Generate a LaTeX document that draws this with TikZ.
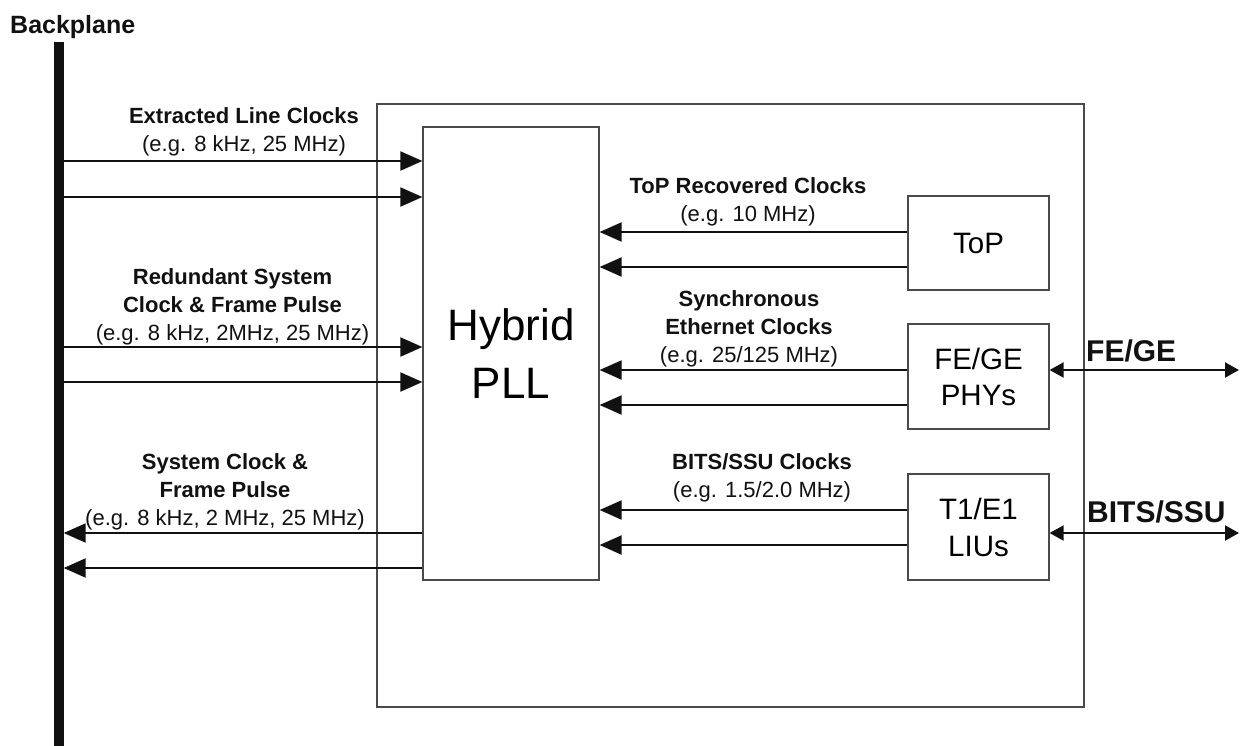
\documentclass[tikz,border=0pt]{standalone}
\usepackage{fontspec}
\setmainfont{Liberation Sans}
\usetikzlibrary{arrows.meta}
\definecolor{PllInk}{HTML}{111111}
\definecolor{PllFrame}{HTML}{4A4A4A}

\begin{document}
\begin{tikzpicture}[x=1pt,y=-1pt,
    blockbox/.style={draw=PllFrame,line width=1.2pt,inner sep=0pt,align=center},
    clk/.style={draw=PllInk,line width=2pt,-{Triangle[length=22pt,width=19pt]}},
    duplex/.style={draw=PllInk,line width=2pt,
      {Triangle[length=14pt,width=15pt]}-{Triangle[length=14pt,width=15pt]}},
    lbl/.style={font=\fontsize{22}{28}\selectfont,align=center,inner sep=0pt,text=PllInk},
    sidelbl/.style={font=\fontsize{30}{36}\selectfont\bfseries,anchor=west,inner sep=0pt,text=PllInk}]
  \useasboundingbox (0,0) rectangle (1240,745);

  % backplane bar
  \node[font=\fontsize{25}{30}\selectfont\bfseries,anchor=west,inner sep=0pt,text=PllInk]
    (bptitle) at (10,27) {Backplane};
  \node[fill=PllInk,minimum width=10,minimum height=704,inner sep=0pt,anchor=north]
    (bp) at (58.5,42) {};

  % card and blocks
  \node[blockbox,minimum width=707,minimum height=603] (board) at (730.5,405.5) {};
  \node[blockbox,fill=white,minimum width=176,minimum height=453,
    font=\fontsize{44}{58}\selectfont] (pll) at (511,353.5) {Hybrid\\PLL};
  \node[blockbox,minimum width=141,minimum height=94,
    font=\fontsize{29.5}{36}\selectfont] (top) at (978.5,243) {ToP};
  \node[blockbox,minimum width=141,minimum height=105,
    font=\fontsize{29.5}{36}\selectfont] (phy) at (978.5,376.5) {FE/GE\\PHYs};
  \node[blockbox,minimum width=141,minimum height=106,
    font=\fontsize{29.5}{37}\selectfont] (liu) at (978.5,527) {T1/E1\\LIUs};

  % clock labels
  \node[lbl] (extlbl) at (244,132) {\textbf{Extracted Line Clocks}\\(e.g. 8 kHz, 25 MHz)};
  \node[lbl] (redlbl) at (232.5,307) {\textbf{Redundant System}\\\textbf{Clock \& Frame Pulse}\\(e.g. 8 kHz, 2MHz, 25 MHz)};
  \node[lbl] (syslbl) at (225,492) {\textbf{System Clock \&}\\\textbf{Frame Pulse}\\(e.g. 8 kHz, 2 MHz, 25 MHz)};
  \node[lbl] (toplbl) at (748,202) {\textbf{ToP Recovered Clocks}\\(e.g. 10 MHz)};
  \node[lbl] (synclbl) at (749,329) {\textbf{Synchronous}\\\textbf{Ethernet Clocks}\\(e.g. 25/125 MHz)};
  \node[lbl] (bitslbl) at (762,478) {\textbf{BITS/SSU Clocks}\\(e.g. 1.5/2.0 MHz)};

  % backplane <-> PLL
  \draw[clk] (bp.east |- 0,161) -- (pll.west |- 0,161);
  \draw[clk] (bp.east |- 0,197) -- (pll.west |- 0,197);
  \draw[clk] (bp.east |- 0,347) -- (pll.west |- 0,347);
  \draw[clk] (bp.east |- 0,382) -- (pll.west |- 0,382);
  \draw[clk] (pll.west |- 0,533) -- (bp.east |- 0,533);
  \draw[clk] (pll.west |- 0,568) -- (bp.east |- 0,568);

  % recovered clocks into PLL
  \draw[clk] (top.west |- 0,232) -- (pll.east |- 0,232);
  \draw[clk] (top.west |- 0,267) -- (pll.east |- 0,267);
  \draw[clk] (phy.west |- 0,370) -- (pll.east |- 0,370);
  \draw[clk] (phy.west |- 0,405) -- (pll.east |- 0,405);
  \draw[clk] (liu.west |- 0,510) -- (pll.east |- 0,510);
  \draw[clk] (liu.west |- 0,545) -- (pll.east |- 0,545);

  % line interfaces
  \coordinate (feend) at (1239,370);
  \coordinate (bitsend) at (1239,533);
  \draw[duplex] (phy.east |- feend) -- (feend);
  \draw[duplex] (liu.east |- bitsend) -- (bitsend);
  \node[sidelbl] (felbl) at (1086,351) {FE/GE};
  \node[sidelbl] (bitslbl2) at (1087,512) {BITS/SSU};
\end{tikzpicture}
\end{document}
